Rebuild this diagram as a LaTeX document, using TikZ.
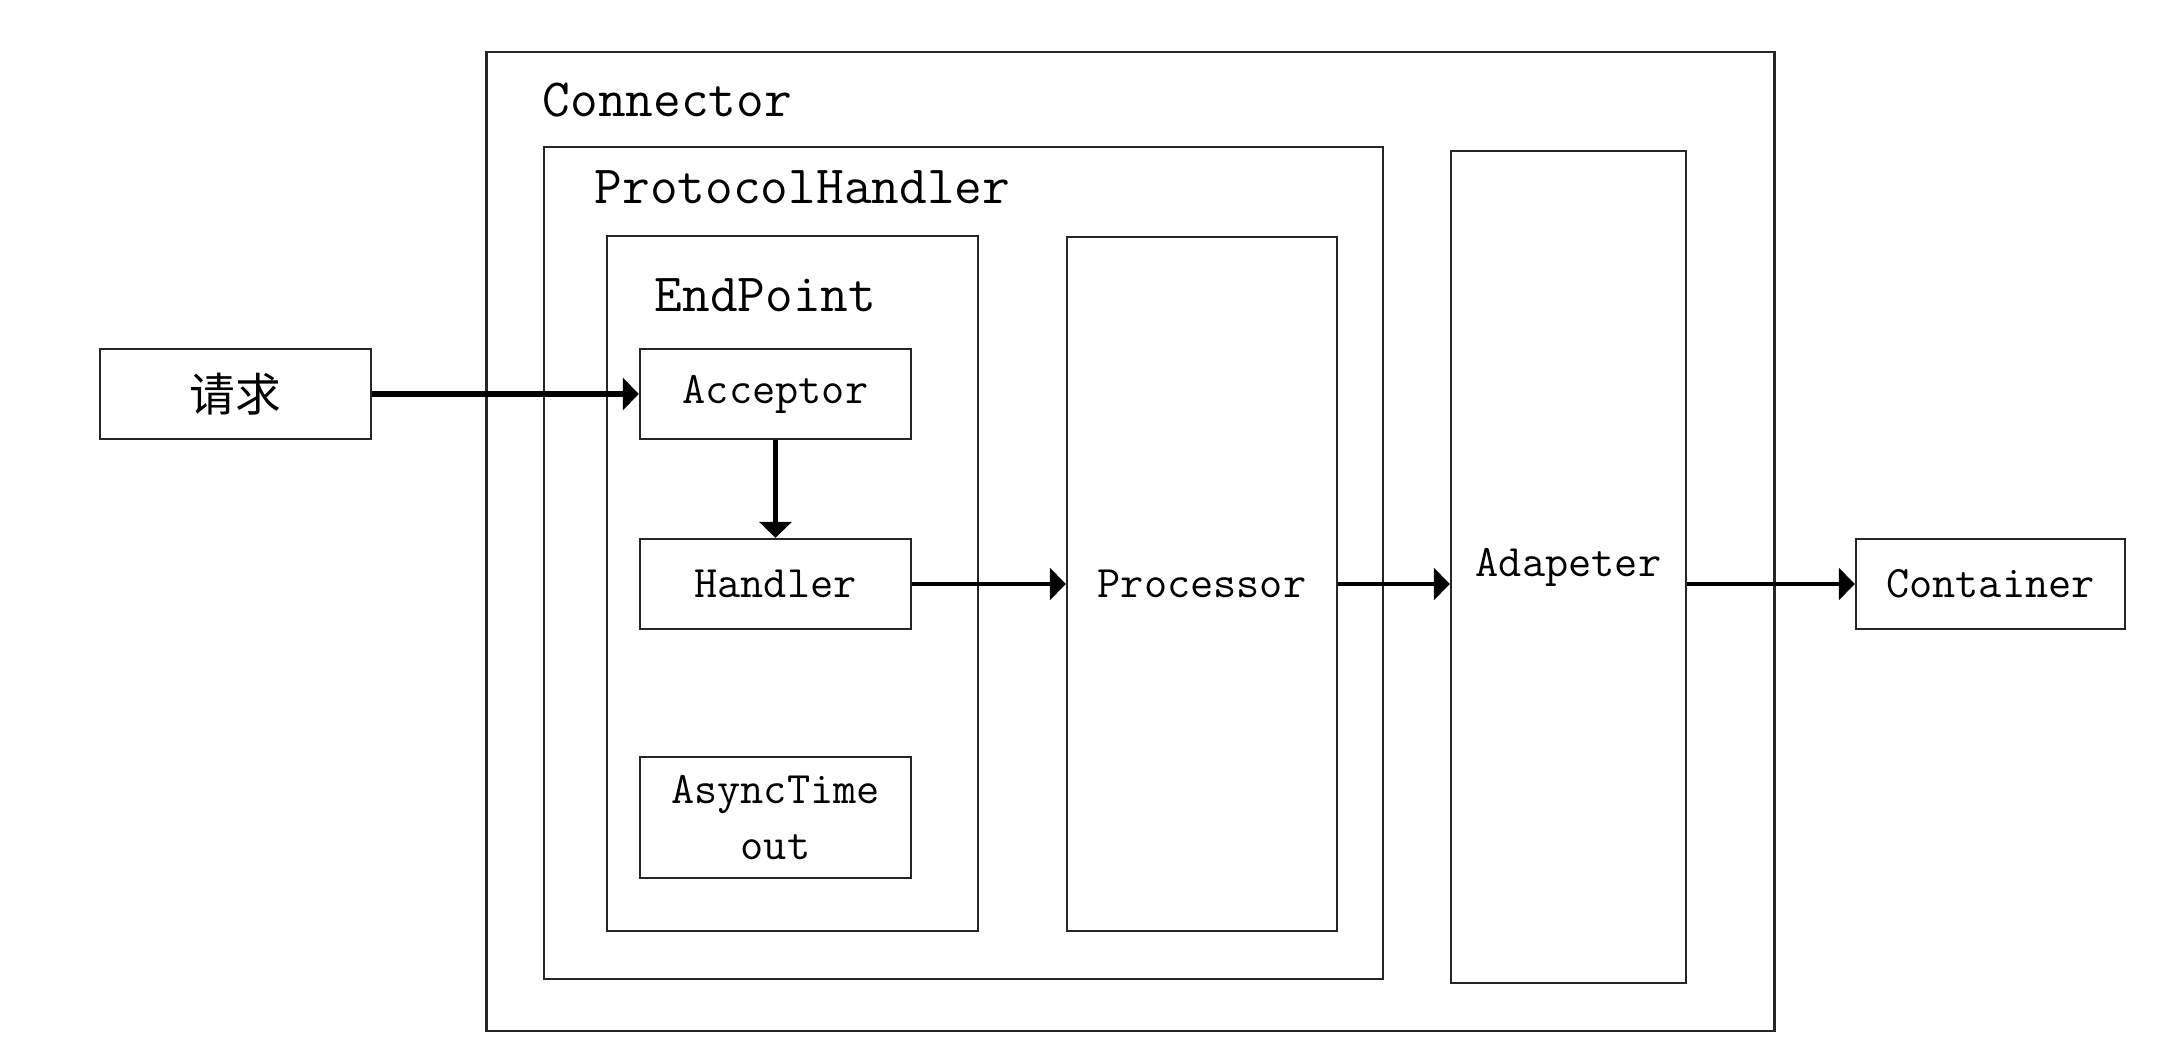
\documentclass[tikz,border=0pt]{standalone}
\usepackage{fontspec}
\newfontfamily\cjkfont{Noto Sans CJK SC}
\usetikzlibrary{arrows.meta}
\tikzset{
  box/.style={draw=black!85, line width=0.65pt, rectangle, inner sep=0pt},
  small/.style={font=\ttfamily\fontsize{12.8pt}{16pt}\selectfont},
  big/.style={font=\ttfamily\fontsize{15.3pt}{18pt}\selectfont, inner sep=0pt, anchor=base west},
  flow/.style={-{Triangle[length=0.16cm,width=0.32cm]}, line width=1.0pt},
  thickflow/.style={-{Triangle[length=0.16cm,width=0.32cm]}, line width=1.5pt}
}
\begin{document}
\begin{tikzpicture}[x=0.01cm,y=-0.01cm]
\useasboundingbox (0,0) rectangle (2178,1040);
% containers
\node[box, minimum width=12.87cm, minimum height=9.79cm] (conn) at (1130.5,541.5) {};
\node[box, minimum width=8.39cm, minimum height=8.32cm] (ph) at (963.5,563) {};
\node[box, minimum width=3.71cm, minimum height=6.95cm] (ep) at (792.5,583.5) {};
\node[box, small, minimum width=2.70cm, minimum height=6.94cm] (proc) at (1202,584) {Processor};
\node[box, small, minimum width=2.35cm, minimum height=8.32cm] (adap) at (1568.5,567) {Adapeter};
% titles
\node[big] (connlabel) at (542,117) {Connector};
\node[big] (phlabel) at (594,204) {ProtocolHandler};
\node[big] (eplabel) at (654,312) {EndPoint};
% inner boxes
\node[box, minimum width=2.71cm, minimum height=0.90cm, font=\cjkfont\fontsize{13pt}{16pt}\selectfont] (req) at (235.5,394) {请求};
\node[box, small, minimum width=2.71cm, minimum height=0.90cm] (acc) at (775.5,394) {Acceptor};
\node[box, small, minimum width=2.71cm, minimum height=0.90cm] (hand) at (775.5,584) {Handler};
\node[box, small, minimum width=2.71cm, minimum height=1.21cm, align=center] (async) at (775.5,817.5) {AsyncTime\\out};
\node[box, small, minimum width=2.69cm, minimum height=0.90cm] (cont) at (1990.5,584) {Container};
% connectors
\draw[thickflow] (req.east) -- (acc.west);
\draw[thickflow] (acc.south) -- (hand.north);
\draw[flow] (hand.east) -- (proc.west);
\draw[flow] (proc.east) -- (proc.east -| adap.west);
\draw[flow] (adap.east |- cont.west) -- (cont.west);
\end{tikzpicture}
\end{document}
